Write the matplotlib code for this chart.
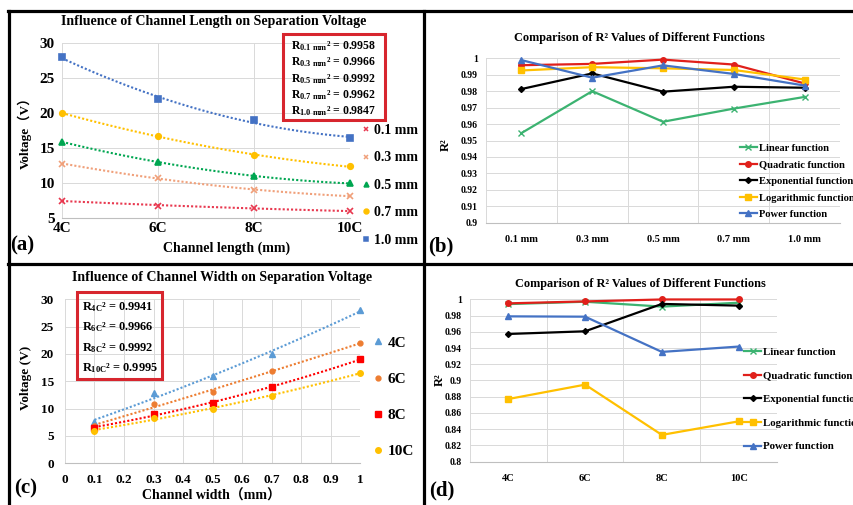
import numpy as np
import matplotlib
matplotlib.use('Agg')
from matplotlib import pyplot as plt
from matplotlib.lines import Line2D
from matplotlib.patches import Rectangle

plt.rcParams['font.family'] = ['Liberation Serif', 'Noto Sans CJK SC']
plt.rcParams['font.weight'] = 'bold'
plt.rcParams['mathtext.fontset'] = 'custom'
plt.rcParams['mathtext.rm'] = 'Liberation Serif:bold'
plt.rcParams['mathtext.it'] = 'Liberation Serif:bold'
plt.rcParams['mathtext.bf'] = 'Liberation Serif:bold'

# ---- data: separation voltage (V) per channel width, over channel lengths ----
lengths = ['4C', '6C', '8C', '10C']
widths = [0.1, 0.3, 0.5, 0.7, 1.0]
width_labels = ['0.1 mm', '0.3 mm', '0.5 mm', '0.7 mm', '1.0 mm']
volt_w01 = [7.5, 6.8, 6.5, 6.0]
volt_w03 = [12.8, 10.8, 9.0, 8.2]
volt_w05 = [15.9, 13.1, 11.0, 10.0]
volt_w07 = [20.0, 16.8, 14.0, 12.4]
volt_w10 = [28.0, 22.0, 19.0, 16.5]
r2_width_box = ['0.9958', '0.9966', '0.9992', '0.9962', '0.9847']
r2_length_box = ['0.9941', '0.9966', '0.9992', '0.9995']

# ---- data: R^2 of different fit functions ----
func_names = ['Linear function', 'Quadratic function', 'Exponential function',
              'Logarithmic function', 'Power function']
r2_b_linear = [0.9545, 0.9800, 0.9614, 0.9694, 0.9765]
r2_b_quad = [0.9958, 0.9966, 0.9992, 0.9962, 0.9847]
r2_b_exp = [0.9813, 0.9908, 0.9797, 0.9827, 0.9821]
r2_b_log = [0.9926, 0.9946, 0.9939, 0.9929, 0.9871]
r2_b_power = [0.9989, 0.9882, 0.9957, 0.9905, 0.9834]

r2_d_linear = [0.9941, 0.9970, 0.9910, 0.9958]
r2_d_quad = [0.9950, 0.9974, 0.9998, 0.9998]
r2_d_exp = [0.9573, 0.9606, 0.9943, 0.9922]
r2_d_log = [0.8772, 0.8949, 0.8330, 0.8497]
r2_d_power = [0.9790, 0.9786, 0.9352, 0.9418]

W, H = 854, 505
fig = plt.figure(figsize=(W / 100, H / 100), dpi=100)


def rect(x0, y0, x1, y1):
    return [x0 / W, 1 - y1 / H, (x1 - x0) / W, (y1 - y0) / H]


def fpos(x, y):
    return x / W, 1 - y / H


def style_axes(ax, fs):
    for s in ax.spines.values():
        s.set_visible(False)
    ax.spines['bottom'].set_visible(True)
    ax.spines['bottom'].set_color('#BFBFBF')
    ax.spines['bottom'].set_linewidth(0.8)
    ax.grid(True, color='#D9D9D9', linewidth=0.7)
    ax.set_axisbelow(True)
    ax.tick_params(length=0, labelsize=fs)


fit_colors = ['#3CB371', '#E0201B', '#000000', '#FFC000', '#4472C4']
fit_markers = ['x', 'o', 'D', 's', '^']
fit_msize = [4, 4, 3, 4, 4]

# ---------------- (a) ----------------
ax_a = fig.add_axes(rect(62, 43.3, 350, 218.3))
style_axes(ax_a, 11)
xa = np.arange(len(lengths))
a_series = [volt_w01, volt_w03, volt_w05, volt_w07, volt_w10]
a_colors = ['#E8384F', '#F0A07A', '#00A651', '#FFC000', '#4472C4']
a_markers = ['x', 'x', '^', 'o', 's']
xfine = np.linspace(0, 3, 60)
for vals, c, m in zip(a_series, a_colors, a_markers):
    coef = np.polyfit(xa, vals, 2)
    ax_a.plot(xfine, np.polyval(coef, xfine), color=c, linestyle=(0, (1, 1)), linewidth=1.5)
    ax_a.plot(xa, vals, linestyle='none', marker=m, color=c, markersize=4,
              markeredgewidth=1.2, clip_on=False)
ax_a.set_xlim(0, 3)
ax_a.set_ylim(5, 30)
ax_a.set_xticks(xa)
ax_a.set_xticklabels(lengths)
ax_a.set_yticks(np.arange(5, 31, 5))
ax_a.tick_params(axis='x', pad=3)
ax_a.tick_params(axis='y', pad=5)
handles = [Line2D([], [], linestyle='none', marker=m, color=c, markersize=3.5, markeredgewidth=1.1)
           for c, m in zip(a_colors, a_markers)]
fig.legend(handles, width_labels, loc='upper left', bbox_to_anchor=fpos(362, 124),
           frameon=False, fontsize=10, handlelength=0.6, handletextpad=0.25,
           labelspacing=1.04, borderpad=0, borderaxespad=0)
fig.patches.append(Rectangle(fpos(283, 120), 102 / W, 86 / H, transform=fig.transFigure,
                             fill=False, edgecolor='#D7262E', linewidth=2.2))
for i, (lab, r) in enumerate(zip(width_labels, r2_width_box)):
    sub = lab.replace(' ', r'\ ')
    fig.text(*fpos(291, 46 + i * 16.4), r'$R_{%s}$² = %s' % (sub, r),
             fontsize=8.5, va='center', ha='left')
fig.text(*fpos(214, 22), 'Influence of Channel Length on Separation Voltage',
         ha='center', va='center', fontsize=10)
fig.text(*fpos(227, 248), 'Channel length (mm)', ha='center', va='center', fontsize=10)
fig.text(*fpos(25, 130), 'Voltage（V）', ha='center', va='center', fontsize=9.5, rotation=90)
fig.text(*fpos(10, 245), '(a)', ha='left', va='center', fontsize=15)

# ---------------- (b) ----------------
ax_b = fig.add_axes(rect(486, 58.3, 840, 222.7))
style_axes(ax_b, 7)
xb = np.arange(len(widths))
b_series = [r2_b_linear, r2_b_quad, r2_b_exp, r2_b_log, r2_b_power]
for vals, c, m, ms in zip(b_series, fit_colors, fit_markers, fit_msize):
    ax_b.plot(xb, vals, color=c, marker=m, markersize=ms, linewidth=1.6,
              markeredgewidth=1, clip_on=False)
ax_b.set_xlim(-0.5, 4.5)
ax_b.set_ylim(0.9, 1.0)
bt = np.round(np.arange(0.9, 1.0001, 0.01), 2)
ax_b.set_yticks(bt)
ax_b.set_yticklabels(['%g' % v for v in bt])
ax_b.set_xticks(np.arange(-0.5, 4.6, 1))
ax_b.set_xticklabels([])
ax_b.set_xticks(xb, minor=True)
ax_b.set_xticklabels(width_labels, minor=True)
ax_b.tick_params(axis='x', which='minor', length=0, labelsize=7.5, pad=9)
ax_b.tick_params(axis='y', pad=6)
ax_b.legend(func_names, loc='upper left', bbox_to_anchor=fpos(740, 143.5),
            bbox_transform=fig.transFigure, frameon=False, fontsize=7.6,
            handlelength=1.6, handletextpad=0.2, labelspacing=0.68,
            borderpad=0, borderaxespad=0)
fig.text(*fpos(639, 38), 'Comparison of R² Values of Different Functions',
         ha='center', va='center', fontsize=8.8)
fig.text(*fpos(446, 145), 'R²', ha='center', va='center', fontsize=9, rotation=90)
fig.text(*fpos(428, 246), '(b)', ha='left', va='center', fontsize=15)

# ---------------- (c) ----------------
ax_c = fig.add_axes(rect(65, 299.3, 360, 463.3))
style_axes(ax_c, 9.5)
c_matrix = np.array(a_series).T  # rows: channel lengths, cols: widths
c_colors = ['#5B9BD5', '#ED7D31', '#FF0000', '#FFC000']
c_markers = ['^', 'o', 's', 'o']
c_msize = [4, 3.5, 5, 4]
wfine = np.linspace(widths[0], widths[-1], 60)
for vals, c, m, ms in zip(c_matrix, c_colors, c_markers, c_msize):
    coef = np.polyfit(widths, vals, 2)
    ax_c.plot(wfine, np.polyval(coef, wfine), color=c, linestyle=(0, (1, 1)), linewidth=1.5)
    ax_c.plot(widths, vals, linestyle='none', marker=m, color=c, markersize=ms, clip_on=False)
ax_c.set_xlim(0, 1)
ax_c.set_ylim(0, 30)
ct = np.round(np.arange(0, 1.01, 0.1), 1)
ax_c.set_xticks(ct)
ax_c.set_xticklabels(['%g' % v for v in ct])
ax_c.set_yticks(np.arange(0, 31, 5))
ax_c.tick_params(axis='x', pad=8)
ax_c.tick_params(axis='y', pad=8)
handles = [Line2D([], [], linestyle='none', marker=m, color=c, markersize=ms)
           for c, m, ms in zip(c_colors, c_markers, c_msize)]
fig.legend(handles, lengths, loc='upper left', bbox_to_anchor=fpos(372, 336),
           frameon=False, fontsize=11, handlelength=0.8, handletextpad=0.2,
           labelspacing=1.47, borderpad=0, borderaxespad=0)
fig.patches.append(Rectangle(fpos(77, 379), 85 / W, 87 / H, transform=fig.transFigure,
                             fill=False, edgecolor='#D7262E', linewidth=2.2))
for i, (lab, r) in enumerate(zip(lengths, r2_length_box)):
    fig.text(*fpos(82, 307 + i * 20.5), r'$R_{%s}$² = %s' % (lab, r),
             fontsize=8.8, va='center', ha='left')
fig.text(*fpos(222, 278), 'Influence of Channel Width on Separation Voltage',
         ha='center', va='center', fontsize=10)
fig.text(*fpos(211, 496), 'Channel width（mm）', ha='center', va='center', fontsize=10)
fig.text(*fpos(26, 378), 'Voltage (V)', ha='center', va='center', fontsize=9.5, rotation=90)
fig.text(*fpos(14, 488), '(c)', ha='left', va='center', fontsize=15)

# ---------------- (d) ----------------
ax_d = fig.add_axes(rect(470, 299.3, 777, 461.7))
style_axes(ax_d, 7)
xd = np.arange(len(lengths))
d_series = [r2_d_linear, r2_d_quad, r2_d_exp, r2_d_log, r2_d_power]
for vals, c, m, ms in zip(d_series, fit_colors, fit_markers, fit_msize):
    ax_d.plot(xd, vals, color=c, marker=m, markersize=ms, linewidth=1.6,
              markeredgewidth=1, clip_on=False)
ax_d.set_xlim(-0.5, 3.5)
ax_d.set_ylim(0.8, 1.0)
dt = np.round(np.arange(0.8, 1.0001, 0.02), 2)
ax_d.set_yticks(dt)
ax_d.set_yticklabels(['%g' % v for v in dt])
ax_d.set_xticks(np.arange(-0.5, 3.6, 1))
ax_d.set_xticklabels([])
ax_d.set_xticks(xd, minor=True)
ax_d.set_xticklabels(lengths, minor=True)
ax_d.tick_params(axis='x', which='minor', length=0, labelsize=7.5, pad=9)
ax_d.tick_params(axis='y', pad=6)
ax_d.legend(func_names, loc='upper left', bbox_to_anchor=fpos(744, 347.5),
            bbox_transform=fig.transFigure, frameon=False, fontsize=7.8,
            handlelength=1.6, handletextpad=0.2, labelspacing=1.29,
            borderpad=0, borderaxespad=0)
fig.text(*fpos(640, 284), 'Comparison of R² Values of Different Functions',
         ha='center', va='center', fontsize=8.8)
fig.text(*fpos(440, 380), 'R²', ha='center', va='center', fontsize=9, rotation=90)
fig.text(*fpos(429, 490), '(d)', ha='left', va='center', fontsize=15)

# ---- panel frame lines ----
lw = 2.3
for xs, ys in [((8, 854), (11, 11)), ((9, 9), (11, 505)), ((424, 424), (11, 505)),
               ((8, 854), (263.5, 263.5))]:
    fig.add_artist(Line2D([x / W for x in xs], [1 - y / H for y in ys],
                          transform=fig.transFigure, color='black', linewidth=lw))

fig.savefig('out.png', dpi=100)
